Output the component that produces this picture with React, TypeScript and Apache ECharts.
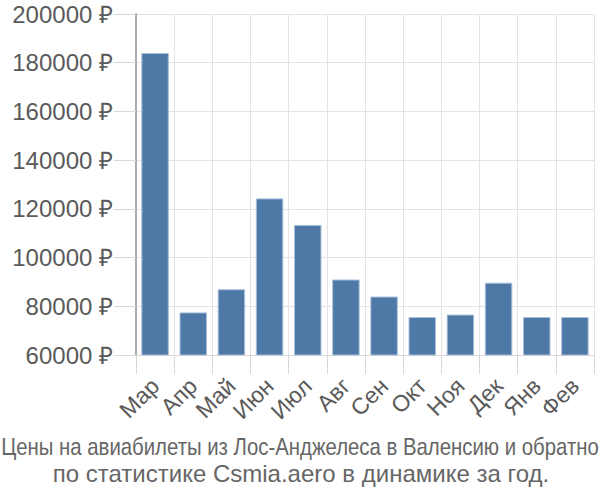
import React, { useEffect, useRef } from "react";
import * as echarts from "echarts";

const months = ["Мар", "Апр", "Май", "Июн", "Июл", "Авг", "Сен", "Окт", "Ноя", "Дек", "Янв", "Фев"];
const prices = [184000, 77500, 87000, 124300, 113400, 91000, 84000, 75600, 76600, 89700, 75600, 75600];
const titleLine1 = "Цены на авиабилеты из Лос-Анджелеса в Валенсию и обратно";
const titleLine2 = "по статистике Csmia.aero в динамике за год.";

const FONT = "Liberation Sans";

function measure(text: string, font: string): number {
  const c = document.createElement("canvas");
  const ctx = c.getContext("2d");
  if (!ctx) return 600;
  ctx.font = font;
  return ctx.measureText(text).width;
}

export default function App() {
  const ref = useRef<HTMLDivElement>(null);
  useEffect(() => {
    if (!ref.current) return;
    const chart = echarts.init(ref.current, undefined, { renderer: "svg" });
    const w1 = measure(titleLine1, `24px "${FONT}"`);
    const sx = Math.min(1, 598 / w1);
    chart.setOption({
      animation: false,
      graphic: [
        {
          type: "text",
          x: 300,
          y: 447,
          scaleX: sx,
          style: {
            text: titleLine1,
            fontFamily: FONT,
            fontSize: 24,
            fill: "#666",
            textAlign: "center",
            textVerticalAlign: "middle",
          },
        },
        {
          type: "text",
          x: 301,
          y: 473,
          style: {
            text: titleLine2,
            fontFamily: FONT,
            fontSize: 24,
            fill: "#666",
            textAlign: "center",
            textVerticalAlign: "middle",
          },
        },
      ],
      grid: { left: 136, right: 6, top: 14, bottom: 145, containLabel: false },
      xAxis: {
        type: "category",
        data: months,
        axisLine: { show: true, lineStyle: { color: "#d8d8d8", width: 1 } },
        axisTick: { show: true, length: 19, alignWithLabel: false, lineStyle: { color: "#d8d8d8" } },
        splitLine: { show: true, lineStyle: { color: "#e3e3e3", width: 1 } },
        axisLabel: {
          rotate: 45,
          interval: 0,
          margin: 27,
          verticalAlign: "middle",
          fontFamily: FONT,
          fontSize: 23,
          color: "#5a5a5a",
        },
      },
      yAxis: {
        type: "value",
        min: 60000,
        max: 200000,
        interval: 20000,
        axisLine: { show: true, lineStyle: { color: "#aaa", width: 2 } },
        axisTick: { show: true, length: 22, lineStyle: { color: "#d8d8d8" } },
        splitLine: { show: true, lineStyle: { color: "#e3e3e3", width: 1 } },
        axisLabel: {
          formatter: (v: number) => v + " ₽",
          margin: 23,
          fontFamily: FONT,
          fontSize: 24,
          color: "#5a5a5a",
        },
      },
      series: [
        {
          type: "bar",
          data: prices,
          barWidth: "72%",
          itemStyle: { color: "#4e78a6", borderColor: "#a9c0da", borderWidth: 1 },
        },
      ],
    });
    return () => chart.dispose();
  }, []);
  return <div ref={ref} style={{ width: 600, height: 500, position: "absolute", left: 0, top: 0 }} />;
}
